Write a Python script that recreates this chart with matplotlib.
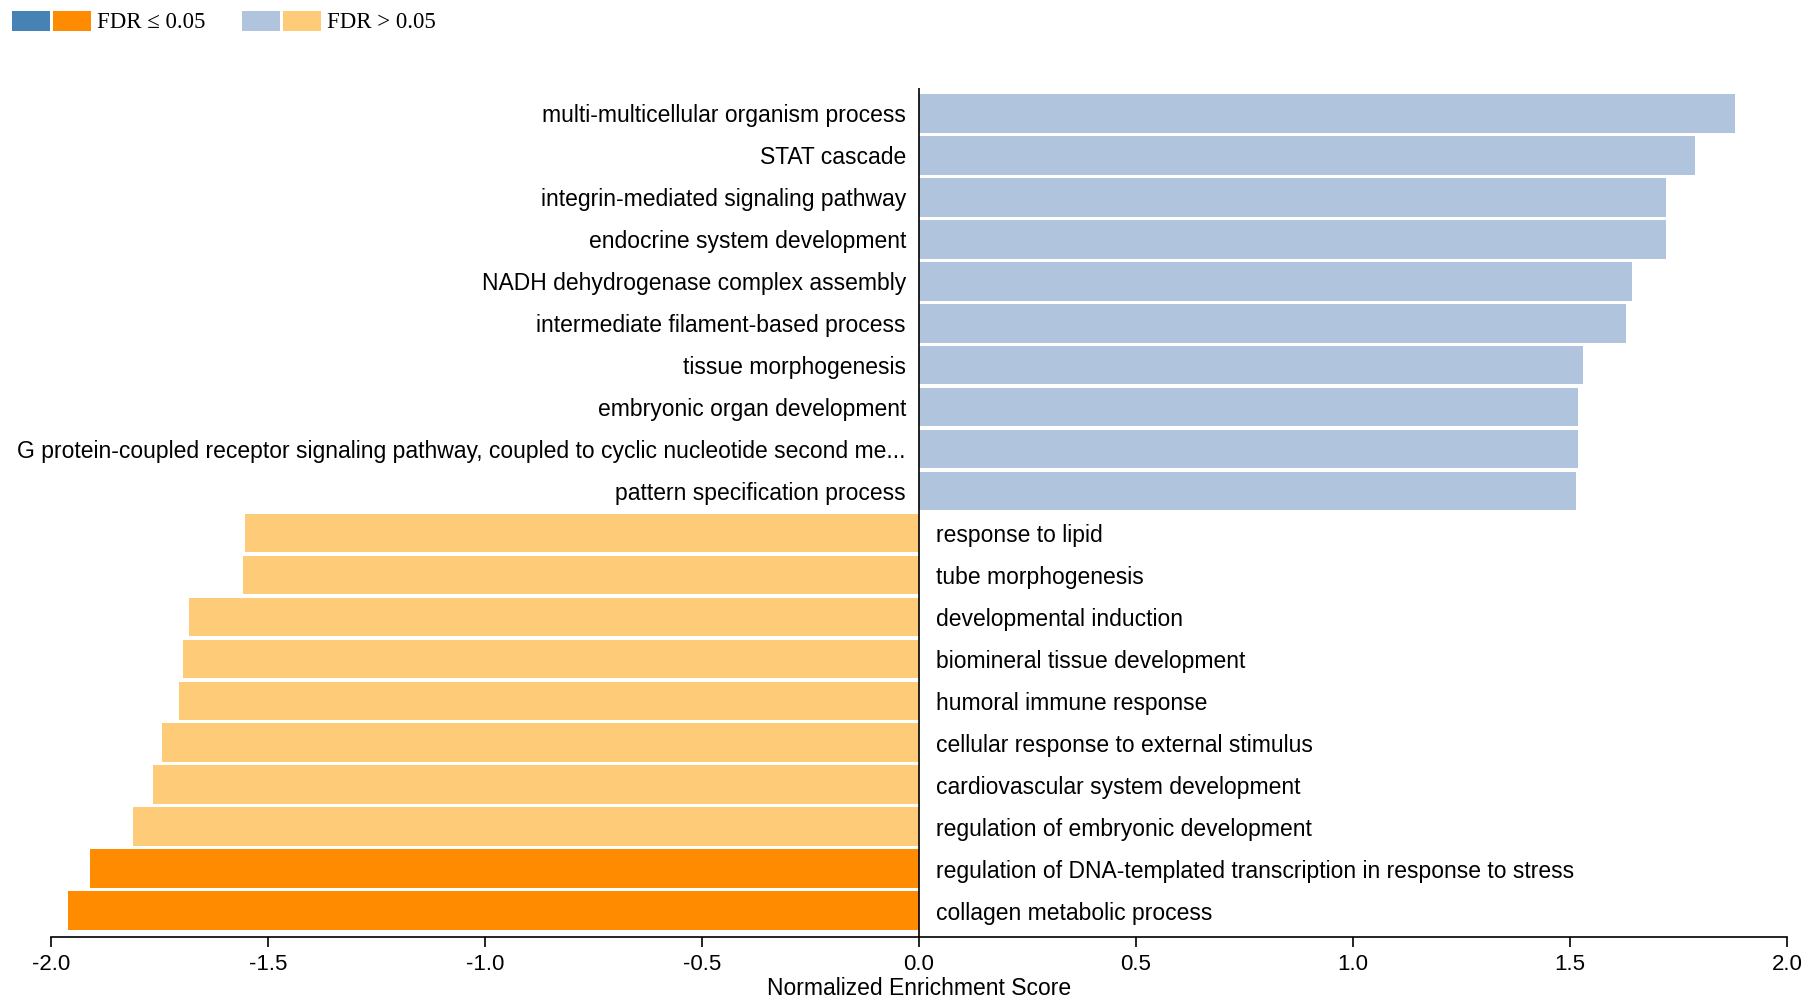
import matplotlib.pyplot as plt
from matplotlib.patches import Rectangle

# categorie (dall'alto verso il basso) e punteggi NES
categories = [
    "multi-multicellular organism process",
    "STAT cascade",
    "integrin-mediated signaling pathway",
    "endocrine system development",
    "NADH dehydrogenase complex assembly",
    "intermediate filament-based process",
    "tissue morphogenesis",
    "embryonic organ development",
    "G protein-coupled receptor signaling pathway, coupled to cyclic nucleotide second me...",
    "pattern specification process",
    "response to lipid",
    "tube morphogenesis",
    "developmental induction",
    "biomineral tissue development",
    "humoral immune response",
    "cellular response to external stimulus",
    "cardiovascular system development",
    "regulation of embryonic development",
    "regulation of DNA-templated transcription in response to stress",
    "collagen metabolic process",
]
nes = [1.880, 1.787, 1.722, 1.722, 1.642, 1.628, 1.529, 1.519, 1.519, 1.514,
       -1.553, -1.558, -1.682, -1.695, -1.704, -1.745, -1.764, -1.812, -1.909, -1.961]
significant = [False] * 18 + [True, True]

xticks = [-2.0, -1.5, -1.0, -0.5, 0.0, 0.5, 1.0, 1.5, 2.0]

BLUE_SIG, ORANGE_SIG = "#4682b4", "#ff8c00"
BLUE_NS, ORANGE_NS = "#b0c4de", "#fecc78"

plt.rcParams['font.family'] = ['Liberation Sans', 'DejaVu Sans']

fig = plt.figure(figsize=(18.18, 10.08), dpi=100)
ax = fig.add_axes([0.028, 0.0704, 0.955, 0.842])

colors = []
for v, s in zip(nes, significant):
    if v >= 0:
        colors.append(BLUE_SIG if s else BLUE_NS)
    else:
        colors.append(ORANGE_SIG if s else ORANGE_NS)

ypos = list(range(len(categories)))
ax.barh(ypos, nes, height=0.92, color=colors, edgecolor='none')

# etichette: a sinistra dello zero per NES positivi, a destra per negativi
for y, v, lab in zip(ypos, nes, categories):
    if v >= 0:
        ax.text(-0.03, y + 0.06, lab, ha='right', va='center', fontsize=16.5)
    else:
        ax.text(0.04, y + 0.06, lab, ha='left', va='center', fontsize=16.5)

ax.axvline(0, color='black', linewidth=1.2)
ax.set_xlim(-2.0, 2.0)
ax.set_ylim(19.63, -0.60)
ax.set_xticks(xticks)
ax.set_xticklabels([f"{t:.1f}" for t in xticks], fontsize=16)
ax.set_yticks([])
ax.tick_params(axis='x', length=7, width=1.2, pad=5)
for side in ['top', 'right', 'left']:
    ax.spines[side].set_visible(False)
ax.spines['bottom'].set_linewidth(1.2)
ax.set_xlabel("Normalized Enrichment Score", fontsize=16.5, labelpad=2)

# legenda in alto a sinistra
W, H = 38 / 1818, 20 / 1008
y0 = 1 - 31 / 1008
for x, c in [(12, BLUE_SIG), (53, ORANGE_SIG), (242, BLUE_NS), (283, ORANGE_NS)]:
    fig.patches.append(Rectangle((x / 1818, y0), W, H, transform=fig.transFigure,
                                 facecolor=c, edgecolor='none'))
fig.text(97 / 1818, y0 + H / 2 - 2 / 1008, "FDR \u2264 0.05",
         family=['Liberation Serif', 'DejaVu Serif'], fontsize=16.5, va='center', ha='left')
fig.text(327 / 1818, y0 + H / 2 - 2 / 1008, "FDR > 0.05",
         family=['Liberation Serif', 'DejaVu Serif'], fontsize=16.5, va='center', ha='left')

fig.savefig("out.png", dpi=100)
